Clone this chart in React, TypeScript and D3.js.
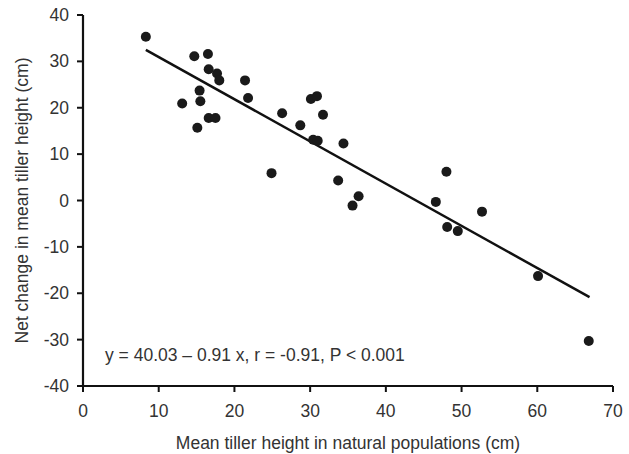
import React from "react";
import * as d3 from "d3";

// Mean tiller height in natural populations (cm)
const xValues = [
  8.3, 13.1, 14.7, 15.1, 15.4, 15.5, 16.5, 16.6, 16.6, 17.5, 17.7, 18.0, 21.4, 21.8, 24.9, 26.3,
  28.7, 30.1, 30.9, 31.7, 30.4, 31.0, 34.4, 33.7, 36.4, 35.6, 48.0, 46.6, 52.7, 48.1, 49.5, 60.1,
  66.8,
];
// Net change in mean tiller height (cm)
const yValues = [
  35.3, 20.9, 31.1, 15.7, 23.7, 21.4, 31.6, 28.3, 17.8, 17.8, 27.4, 25.9, 25.9, 22.1, 5.9, 18.8,
  16.2, 21.9, 22.5, 18.5, 13.1, 12.9, 12.3, 4.3, 0.9, -1.1, 6.2, -0.3, -2.4, -5.7, -6.6, -16.3,
  -30.3,
];
const xTicks = [0, 10, 20, 30, 40, 50, 60, 70];
const yTicks = [-40, -30, -20, -10, 0, 10, 20, 30, 40];
const intercept = 40.03;
const slope = -0.91;
const fitRange = [8.3, 66.9];

const width = 629;
const height = 454;
const margin = { top: 15, right: 16, bottom: 68, left: 83 };
const font = "'Liberation Sans', Arial, sans-serif";
const textColor = "#333";
const fontSize = 17.5;

export default function App() {
  const x = d3.scaleLinear().domain([0, 70]).range([margin.left, width - margin.right]);
  const y = d3.scaleLinear().domain([-40, 40]).range([height - margin.bottom, margin.top]);

  const fitLine = d3
    .line<number>()
    .x((d) => x(d))
    .y((d) => y(intercept + slope * d))(fitRange);

  const x0 = x(0);
  const y0 = y(-40);

  return (
    <svg
      width={width}
      height={height}
      style={{ position: "absolute", left: 0, top: 0, background: "#fff" }}
      fontFamily={font}
    >
      {/* axes */}
      <line x1={x0} x2={x(70)} y1={y0} y2={y0} stroke="#111" strokeWidth={2.2} />
      <line x1={x0} x2={x0} y1={y(40)} y2={y0} stroke="#111" strokeWidth={2.2} />
      {xTicks.map((t) => (
        <g key={"x" + t}>
          <line x1={x(t)} x2={x(t)} y1={y0} y2={y0 + 6} stroke="#111" strokeWidth={2} />
          <text x={x(t)} y={417} textAnchor="middle" fontSize={fontSize} fill={textColor}>
            {t}
          </text>
        </g>
      ))}
      {yTicks.map((t) => (
        <g key={"y" + t}>
          <line x1={x0 - 6} x2={x0} y1={y(t)} y2={y(t)} stroke="#111" strokeWidth={2} />
          <text x={69} y={y(t) + 6} textAnchor="end" fontSize={fontSize} fill={textColor}>
            {t}
          </text>
        </g>
      ))}

      {/* axis titles */}
      <text x={x(35)} y={449} textAnchor="middle" fontSize={fontSize} fill={textColor}>
        Mean tiller height in natural populations (cm)
      </text>
      <text
        transform={`translate(28,${(y(40) + y0) / 2}) rotate(-90)`}
        textAnchor="middle"
        fontSize={fontSize}
        fill={textColor}
      >
        Net change in mean tiller height (cm)
      </text>

      {/* regression line */}
      <path d={fitLine ?? ""} fill="none" stroke="#111" strokeWidth={2.5} />

      {/* points */}
      {xValues.map((v, i) => (
        <circle key={i} cx={x(v)} cy={y(yValues[i])} r={5} fill="#1a1a1a" />
      ))}

      <text x={105} y={361} fontSize={fontSize} fill={textColor}>
        y = 40.03 – 0.91 x, r = -0.91, P &lt; 0.001
      </text>
    </svg>
  );
}
